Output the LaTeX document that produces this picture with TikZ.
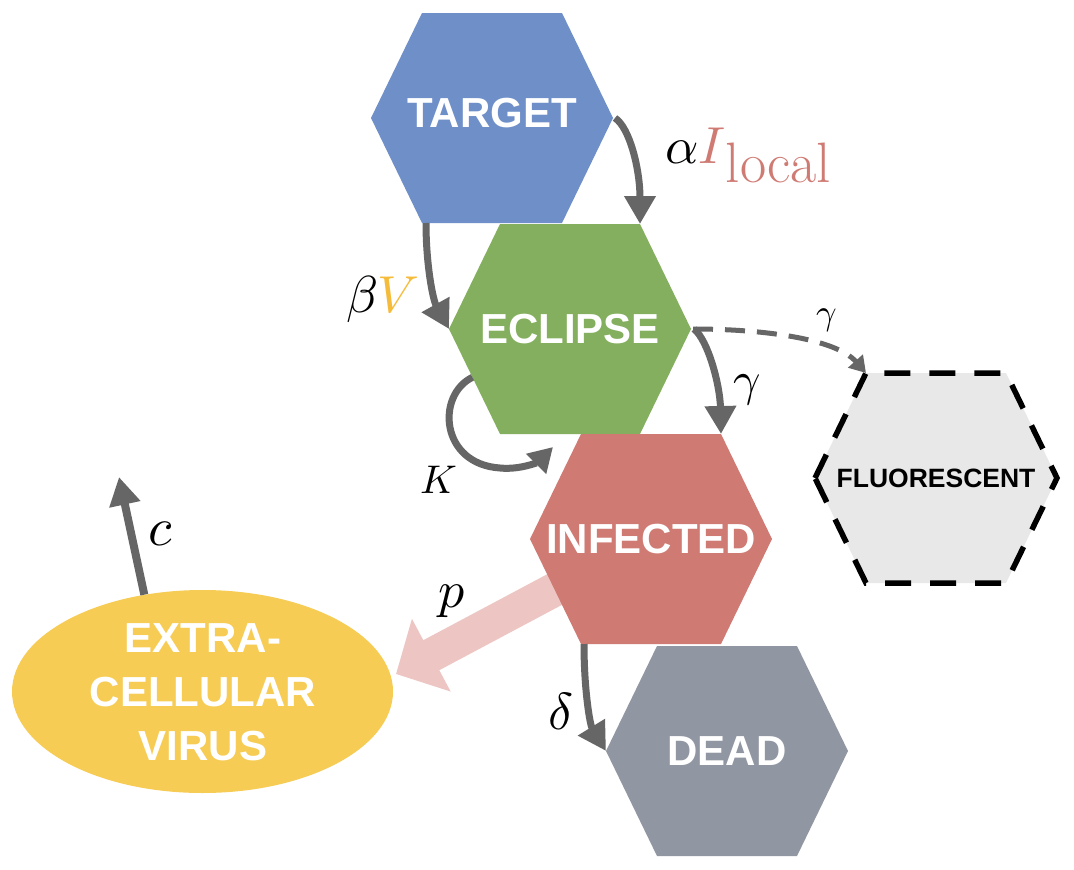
\documentclass[tikz,border=0pt]{standalone}
\usepackage{fontspec}
\usepackage{unicode-math}
\setmathfont{Latin Modern Math}
\setsansfont{Liberation Sans}
\usetikzlibrary{arrows.meta,shapes.geometric,calc}
\definecolor{ctarget}{HTML}{6F8FC9}
\definecolor{cecl}{HTML}{84AF5E}
\definecolor{cinf}{HTML}{CF7A73}
\definecolor{cdead}{HTML}{9197A2}
\definecolor{cvirus}{HTML}{F7CC55}
\definecolor{cfluor}{HTML}{E8E8E8}
\definecolor{cgray}{HTML}{666666}
\definecolor{cpink}{HTML}{EDC6C3}
\definecolor{cvir}{HTML}{F5BC3C}
% #1 name, #2 cx, #3 cy, #4 shape style, #5 node style, #6 text
\newcommand\hexcell[6]{%
  \coordinate (#1-l) at ({#2-121},#3);
  \coordinate (#1-r) at ({#2+121},#3);
  \coordinate (#1-tl) at ({#2-70},{#3-105});
  \coordinate (#1-tr) at ({#2+70},{#3-105});
  \coordinate (#1-bl) at ({#2-70},{#3+105});
  \coordinate (#1-br) at ({#2+70},{#3+105});
  \path[#4] (#1-l) -- (#1-tl) -- (#1-tr) -- (#1-r) -- (#1-br) -- (#1-bl) -- cycle;
  \node[celltext,#5] (#1) at (#2,#3) {#6};
}
\begin{document}
\begin{tikzpicture}[x=1pt,y=-1pt,
  celltext/.style={text=white,font=\sffamily\bfseries\fontsize{42}{54}\selectfont,inner sep=0pt,align=center},
  flow/.style={draw=cgray,line width=7pt,-{Triangle[length=28pt,width=30pt]}},
  dflow/.style={draw=cgray,line width=5pt,dash pattern=on 20pt off 12pt,-{Triangle[length=16pt,width=19pt]}},
  pflow/.style={draw=cpink,line width=34pt,-{Triangle[length=40pt,width=80pt]}},
  lab/.style={font=\fontsize{52}{56}\selectfont,inner sep=0pt}]
\useasboundingbox (0,0) rectangle (1074,870);
\fill[white] (0,0) rectangle (1074,870);

% extracellular virus
\node[ellipse,fill=cvirus,minimum width=381pt,minimum height=203pt,inner sep=0pt] (virus) at (202.5,691.5) {};
\node[celltext] (virustext) at (203,692) {EXTRA-\\CELLULAR\\VIRUS};

% production arrow (under infected)
\coordinate (pstart) at (580,576);
\coordinate (ptip) at (396,674);
\draw[pflow] (pstart) -- (ptip);

% cells
\hexcell{target}{492}{118}{fill=ctarget}{yshift=5pt}{TARGET}
\hexcell{eclipse}{570}{329}{fill=cecl}{}{ECLIPSE}
\hexcell{infected}{651}{539}{fill=cinf}{}{INFECTED}
\hexcell{dead}{727}{751}{fill=cdead}{}{DEAD}
\hexcell{fluor}{936}{478}{fill=cfluor,draw=black,line width=5.5pt,dash pattern=on 26pt off 19pt}{text=black,font=\sffamily\bfseries\fontsize{26.5}{30}\selectfont}{FLUORESCENT}

% transitions
\draw[flow] ([xshift=2pt]target-r) .. controls (630,128) and (640,170) .. (eclipse-tr);
\draw[flow] ([xshift=4pt]target-bl) .. controls (426,265) and (433,300) .. (eclipse-l);
\draw[flow] ([xshift=3pt]eclipse-r) .. controls (708,340) and (720,385) .. (infected-tr);
\draw[flow] ([xshift=3pt]infected-bl) .. controls (584,690) and (590,725) .. (dead-l);
\draw[dflow] ([xshift=2pt]eclipse-r) .. controls (760,329) and (835,338) .. (fluor-tl);

% eclipse self loop
\coordinate (kstart) at ($(eclipse-l)!0.46!(eclipse-bl)$);
\coordinate (kend) at (553,447);
\draw[flow,-{Triangle[length=24pt,width=27pt]}] (kstart) .. controls (436,395) and (440,464) .. (500,468) .. controls (520,470) and (538,462) .. (kend);

% clearance
\coordinate (cend) at (119,477);
\draw[flow,line width=8pt] (virus.121) -- (cend);

% labels
\node[lab,anchor=base west] (lalpha) at (665,163) {$\alpha$\textcolor{cinf}{$I$\raisebox{-19pt}{\fontsize{57}{60}\selectfont local}}};
\node[lab,anchor=base west] (lbeta) at (346,312) {$\beta\textcolor{cvir}{V}$};
\node[lab,font=\fontsize{48}{50}\selectfont] (lgam) at (747,390) {$\gamma$};
\node[lab,font=\fontsize{36}{38}\selectfont] (lgamf) at (827,320) {$\gamma$};
\node[lab,font=\fontsize{40}{44}\selectfont] (lk) at (439,480) {$K$};
\node[lab,font=\fontsize{54}{58}\selectfont] (lc) at (161,534) {$c$};
\node[lab] (lp) at (452,601) {$p$};
\node[lab] (ldelta) at (561,711) {$\delta$};
\end{tikzpicture}
\end{document}
